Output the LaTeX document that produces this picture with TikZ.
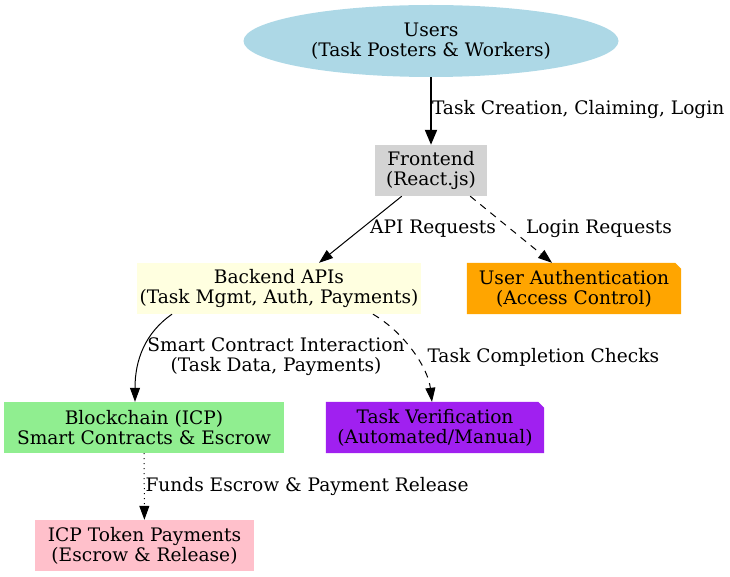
\documentclass[tikz,border=0pt]{standalone}
\usepackage{fontspec}
\setmainfont{DejaVu Serif}
\usetikzlibrary{arrows.meta,shapes.geometric,backgrounds}
\definecolor{cusers}{HTML}{ADD8E6}
\definecolor{cfront}{HTML}{D3D3D3}
\definecolor{cback}{HTML}{FFFFE0}
\definecolor{cauth}{HTML}{FFA500}
\definecolor{cchain}{HTML}{90EE90}
\definecolor{cverif}{HTML}{A020F0}
\definecolor{cicp}{HTML}{FFC0CB}
\begin{document}
\begin{tikzpicture}[x=1pt,y=-1pt,
  txt/.style={font=\fontsize{18.6}{20}\selectfont, align=center, inner sep=0pt},
  box/.style={txt, rectangle, minimum height=51pt},
  notebox/.style={txt, rectangle, minimum height=51pt},
  arr/.style={-{Triangle[length=14pt,width=10pt]}, line width=1pt},
  thickarr/.style={-{Triangle[length=15pt,width=12pt]}, line width=2pt},
  lbl/.style={txt, anchor=west},
  clbl/.style={txt}
]
\useasboundingbox (0,0) rectangle (730,577);
\node[txt, ellipse, fill=cusers, minimum width=375pt, minimum height=72pt] (users) at (431,41) {Users\\(Task Posters \& Workers)};
\node[box, fill=cfront, minimum width=112pt] (front) at (431,170.5) {Frontend\\(React.js)};
\node[box, fill=cback, minimum width=284pt] (back) at (279,288.5) {Backend APIs\\(Task Mgmt, Auth, Payments)};
\node[notebox, minimum width=214pt] (auth) at (574,288.5) {User Authentication\\(Access Control)};
\node[box, fill=cchain, minimum width=280pt] (chain) at (144,427.5) {Blockchain (ICP)\\Smart Contracts \& Escrow};
\node[notebox, minimum width=218pt] (verif) at (435,427.5) {Task Verification\\(Automated/Manual)};
\node[box, fill=cicp, minimum width=219pt] (icp) at (144.5,545.5) {ICP Token Payments\\(Escrow \& Release)};
\begin{scope}[on background layer]
\fill[cauth] (auth.south west) -- (auth.north west) -- ([xshift=-6pt]auth.north east) -- ([yshift=-6pt]auth.north east) -- (auth.south east) -- cycle;
\fill[cverif] (verif.south west) -- (verif.north west) -- ([xshift=-6pt]verif.north east) -- ([yshift=-6pt]verif.north east) -- (verif.south east) -- cycle;
\end{scope}
\draw[thickarr] (users) -- (front) node[lbl] (l1) at (431,110) {Task Creation, Claiming, Login};
\draw[arr] ([xshift=27pt]front.south west) -- ([xshift=40pt]back.north) node[clbl] (l2) at (433,229) {API Requests};
\draw[arr, dash pattern=on 7pt off 6pt] ([xshift=-17pt]front.south east) -- ([xshift=-22pt]auth.north) node[clbl] (l3) at (599,229) {Login Requests};
\draw[arr] ([xshift=-107pt]back.south) .. controls (145,333) and (135,360) .. ([xshift=-9pt]chain.north) node[clbl] (l4) at (276,357) {Smart Contract Interaction\\(Task Data, Payments)};
\draw[arr, dash pattern=on 7pt off 6pt] ([xshift=94pt]back.south) .. controls (405,333) and (428,368) .. ([xshift=-3pt]verif.north) node[lbl] (l5) at (427,357) {Task Completion Checks};
\draw[arr, dash pattern=on 1pt off 4pt] (chain) -- (icp) node[lbl] (l6) at (145,486) {Funds Escrow \& Payment Release};
\end{tikzpicture}
\end{document}
